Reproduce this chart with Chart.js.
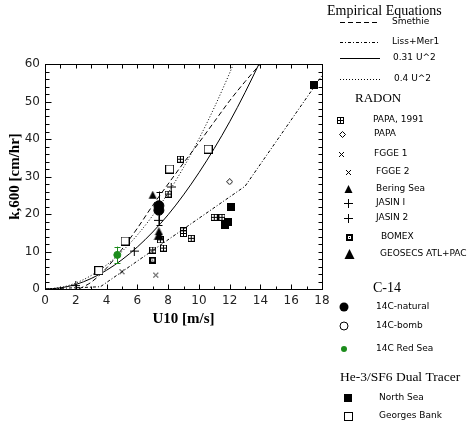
<!DOCTYPE html>
<html>
<head>
<meta charset="utf-8">
<script src="https://cdn.jsdelivr.net/npm/chart.js@4/dist/chart.umd.min.js"></script>
<style>
  html, body { margin: 0; padding: 0; background: #fff; }
  canvas { display: block; }
</style>
</head>
<body>
<canvas id="chart" width="471" height="428"></canvas>
<script>
// --- data ---
const xTicks = [0, 2, 4, 6, 8, 10, 12, 14, 16, 18];
const yTicks = [0, 10, 20, 30, 40, 50, 60];

// empirical curves
const smethieU = [2.2, 3, 4, 5, 6, 7, 8, 9, 10, 11, 12, 13, 14.1];
const smethieK = [0, 1.8, 5.6, 10.6, 16.2, 22.3, 28, 33.6, 39, 44.6, 50.2, 55.3, 60.5];
const lissU = [0, 3.6, 13, 18];
const lissK = [0, 0.6, 27.4, 56.9];
const quad31U = [0, 1, 2, 3, 4, 5, 6, 7, 8, 9, 10, 11, 12, 13, 14, 14.2];
const quad31K = [0, 0.3, 1.2, 2.8, 5, 7.8, 11.2, 15.2, 19.8, 25.1, 31, 37.5, 44.6, 52.4, 60.8, 62.5];
const quad40U = [0, 1, 2, 3, 4, 5, 6, 7, 8, 9, 10, 11, 12, 12.4];
const quad40K = [0, 0.4, 1.6, 3.6, 6.4, 10, 14.4, 19.6, 25.6, 32.4, 40, 48.4, 57.6, 61.5];

// radon
const papa91U = [7.0, 7.5, 7.7, 8.0, 8.8, 9.0, 9.0, 9.5, 11.0, 11.5];
const papa91K = [10.4, 13.1, 10.9, 25.3, 34.6, 15.5, 14.8, 13.5, 19.1, 19.1];
const papaU = [12.0];
const papaK = [28.6];
const fgge1U = [7.2];
const fgge1K = [3.7];
const fgge2U = [5.0];
const fgge2K = [4.6];
const beringU = [7.0, 7.4];
const beringK = [25.0, 15.3];
const jasin1U = [5.8, 8.2];
const jasin1K = [10.1, 27.2];
const jasin2U = [2.0, 7.4];
const jasin2K = [0.9, 18.3];
const bomexU = [7.0];
const bomexK = [7.7];
const geosecsU = [7.4];
const geosecsK = [14.3];

// C-14
const c14natU = [7.4, 7.4];
const c14natK = [22.2, 21.0];
const c14bombU = [];
const c14bombK = [];
const redSeaU = [4.7];
const redSeaK = [9.1];

// error bars
const errU = [7.4, 4.7];
const errLo = [17.2, 6.9];
const errHi = [26.0, 11.3];
const errColor = ['#000', '#1c8c1c'];

// dual tracer
const northSeaU = [11.7, 11.9, 12.1, 17.5];
const northSeaK = [17.0, 17.8, 21.8, 54.4];
const georgesU = [3.5, 5.2, 8.1, 10.6];
const georgesK = [4.9, 12.8, 32.0, 37.3];

const GREEN = '#1c8c1c';

function pts(us, ks) {
  return us.map((u, i) => ({ x: u, y: ks[i] }));
}

function makeStyle(size, draw) {
  const c = document.createElement('canvas');
  c.width = size;
  c.height = size;
  draw(c.getContext('2d'), size);
  return c;
}

const boxPlus = makeStyle(7, (g) => {
  g.strokeStyle = '#000'; g.lineWidth = 1;
  g.strokeRect(0.5, 0.5, 6, 6);
  g.beginPath(); g.moveTo(3.5, 0.5); g.lineTo(3.5, 6.5); g.moveTo(0.5, 3.5); g.lineTo(6.5, 3.5); g.stroke();
});
const diamond = makeStyle(7, (g) => {
  g.strokeStyle = '#000'; g.lineWidth = 1;
  g.beginPath(); g.moveTo(3.5, 0.5); g.lineTo(6.5, 3.5); g.lineTo(3.5, 6.5); g.lineTo(0.5, 3.5); g.closePath(); g.stroke();
});
const xMark = makeStyle(7, (g) => {
  g.strokeStyle = '#000'; g.lineWidth = 1;
  g.beginPath(); g.moveTo(1, 1); g.lineTo(6, 6); g.moveTo(6, 1); g.lineTo(1, 6); g.stroke();
});
const triSmall = makeStyle(9, (g) => {
  g.fillStyle = '#000';
  g.beginPath(); g.moveTo(4.5, 0); g.lineTo(8.5, 8); g.lineTo(0.5, 8); g.closePath(); g.fill();
});
const triBig = makeStyle(11, (g) => {
  g.fillStyle = '#000';
  g.beginPath(); g.moveTo(5.5, 0); g.lineTo(10.5, 10); g.lineTo(0.5, 10); g.closePath(); g.fill();
});
const plusMark = makeStyle(9, (g) => {
  g.strokeStyle = '#000'; g.lineWidth = 1;
  g.beginPath(); g.moveTo(4.5, 0); g.lineTo(4.5, 9); g.moveTo(0, 4.5); g.lineTo(9, 4.5); g.stroke();
});
const boxDot = makeStyle(7, (g) => {
  g.fillStyle = '#000'; g.fillRect(0, 0, 7, 7);
  g.fillStyle = '#fff'; g.fillRect(2, 2, 3, 3);
  g.fillStyle = '#000'; g.fillRect(3, 3, 1, 1);
});
const squareFilled = makeStyle(8, (g) => {
  g.fillStyle = '#000'; g.fillRect(0, 0, 8, 8);
});
const squareOpen = makeStyle(9, (g) => {
  g.fillStyle = '#000'; g.fillRect(0, 0, 9, 9);
  g.fillStyle = '#fff'; g.fillRect(1, 1, 7, 7);
});

function lineSet(us, ks, dash, smooth) {
  return {
    data: pts(us, ks), showLine: true, pointRadius: 0, borderColor: '#000', borderWidth: 1,
    borderDash: dash, cubicInterpolationMode: smooth ? 'monotone' : 'default', order: 2
  };
}
function markSet(us, ks, style, radius, color) {
  return {
    data: pts(us, ks), showLine: false, pointStyle: style, pointRadius: radius,
    pointBackgroundColor: color || '#000', pointBorderColor: color || '#000', pointBorderWidth: 1, order: 1
  };
}

const datasets = [
  lineSet(smethieU, smethieK, [5, 3], true),
  lineSet(lissU, lissK, [3, 2, 1, 2], false),
  lineSet(quad31U, quad31K, [], true),
  lineSet(quad40U, quad40K, [1, 2], true),
  markSet(papa91U, papa91K, boxPlus, 4),
  markSet(papaU, papaK, diamond, 4),
  markSet(fgge1U, fgge1K, xMark, 4),
  markSet(fgge2U, fgge2K, xMark, 4),
  markSet(bomexU, bomexK, boxDot, 4),
  markSet(jasin1U, jasin1K, plusMark, 4),
  markSet(jasin2U, jasin2K, plusMark, 4),
  markSet(beringU, beringK, triSmall, 4),
  markSet(geosecsU, geosecsK, triBig, 4),
  markSet(c14natU, c14natK, 'circle', 5),
  markSet(c14bombU, c14bombK, 'circle', 4.5, '#fff'),
  markSet(redSeaU, redSeaK, 'circle', 3.5, GREEN),
  markSet(northSeaU, northSeaK, squareFilled, 4),
  markSet(georgesU, georgesK, squareOpen, 4)
];

// error bars, frame, inward ticks and axis titles
const framePlugin = {
  id: 'frame',
  afterDatasetsDraw(chart) {
    const ctx = chart.ctx, xs = chart.scales.x, ys = chart.scales.y;
    ctx.save();
    ctx.lineWidth = 1;
    errU.forEach((u, i) => {
      const x = Math.round(xs.getPixelForValue(u)) + 0.5;
      const y1 = ys.getPixelForValue(errLo[i]);
      const y2 = ys.getPixelForValue(errHi[i]);
      ctx.strokeStyle = errColor[i];
      ctx.beginPath();
      ctx.moveTo(x, y1); ctx.lineTo(x, y2);
      ctx.moveTo(x - 3, Math.round(y1) + 0.5); ctx.lineTo(x + 3, Math.round(y1) + 0.5);
      ctx.moveTo(x - 3, Math.round(y2) + 0.5); ctx.lineTo(x + 3, Math.round(y2) + 0.5);
      ctx.stroke();
    });
    ctx.restore();
  },
  afterDraw(chart) {
    const ctx = chart.ctx, a = chart.chartArea, xs = chart.scales.x, ys = chart.scales.y;
    const L = Math.round(a.left) + 0.5, R = Math.round(a.right) + 0.5;
    const T = Math.round(a.top) + 0.5, B = Math.round(a.bottom) + 0.5;
    ctx.save();
    ctx.strokeStyle = '#000';
    ctx.lineWidth = 1;
    ctx.strokeRect(L, T, R - L, B - T);
    ctx.beginPath();
    for (let v = 0; v <= 18; v++) {
      const x = Math.round(xs.getPixelForValue(v)) + 0.5;
      const len = v % 2 === 0 ? 5 : 3;
      ctx.moveTo(x, B); ctx.lineTo(x, B - len);
      ctx.moveTo(x, T); ctx.lineTo(x, T + 4);
    }
    for (let v = 0; v <= 60; v += 2) {
      const y = Math.round(ys.getPixelForValue(v)) + 0.5;
      const len = v % 10 === 0 ? 6 : 4;
      ctx.moveTo(L, y); ctx.lineTo(L + len, y);
      ctx.moveTo(R, y); ctx.lineTo(R - 4, y);
    }
    ctx.stroke();

    ctx.fillStyle = '#000';
    ctx.font = 'bold 15px "Liberation Serif"';
    ctx.textAlign = 'center';
    ctx.textBaseline = 'middle';
    ctx.fillText('U10 [m/s]', (a.left + a.right) / 2, 319);
    ctx.translate(15, (a.top + a.bottom) / 2);
    ctx.rotate(-Math.PI / 2);
    ctx.fillText('k,600 [cm/hr]', 0, 0);
    ctx.restore();
  }
};

// legend entries on the right
const legendTitles = [
  { text: 'Empirical Equations', x: 327, y: 11, size: 14 },
  { text: 'RADON', x: 355, y: 99, size: 13 },
  { text: 'C-14', x: 373, y: 288, size: 14 },
  { text: 'He-3/SF6 Dual Tracer', x: 340, y: 377, size: 13.5 }
];
const legendLines = [
  { text: 'Smethie', y: 22, dash: [5, 3], tx: 392 },
  { text: 'Liss+Mer1', y: 42, dash: [3, 2, 1, 2], tx: 392 },
  { text: '0.31 U^2', y: 58, dash: [], tx: 393 },
  { text: '0.4 U^2', y: 79, dash: [1, 2], tx: 394 }
];
const legendMarks = [
  { text: 'PAPA, 1991', style: boxPlus, x: 340, y: 120, tx: 373 },
  { text: 'PAPA', style: diamond, x: 342, y: 134, tx: 374 },
  { text: 'FGGE 1', style: xMark, x: 341, y: 154, tx: 374 },
  { text: 'FGGE 2', style: xMark, x: 348, y: 172, tx: 376 },
  { text: 'Bering Sea', style: triSmall, x: 348, y: 189, tx: 376 },
  { text: 'JASIN I', style: plusMark, x: 348, y: 203, tx: 376 },
  { text: 'JASIN 2', style: plusMark, x: 348, y: 218, tx: 376 },
  { text: 'BOMEX', style: boxDot, x: 349, y: 237, tx: 381 },
  { text: 'GEOSECS ATL+PAC', style: triBig, x: 349, y: 254, tx: 380 },
  { text: '14C-natural', circle: '#000', fill: true, r: 4.5, x: 344, y: 307, tx: 376 },
  { text: '14C-bomb', circle: '#000', fill: false, r: 4, x: 344, y: 326, tx: 376 },
  { text: '14C Red Sea', circle: GREEN, fill: true, r: 3, x: 344, y: 349, tx: 376 },
  { text: 'North Sea', style: squareFilled, x: 348, y: 398, tx: 379 },
  { text: 'Georges Bank', style: squareOpen, x: 348, y: 416, tx: 379 }
];

const legendPlugin = {
  id: 'sideLegend',
  afterDraw(chart) {
    const ctx = chart.ctx;
    ctx.save();
    ctx.fillStyle = '#000';
    ctx.textAlign = 'left';
    ctx.textBaseline = 'middle';
    legendTitles.forEach(t => {
      ctx.font = t.size + 'px "Liberation Serif"';
      ctx.fillText(t.text, t.x, t.y);
    });
    ctx.font = '9px "DejaVu Sans"';
    ctx.strokeStyle = '#000';
    ctx.lineWidth = 1;
    legendLines.forEach(l => {
      ctx.setLineDash(l.dash);
      ctx.beginPath();
      ctx.moveTo(340, l.y + 0.5); ctx.lineTo(380, l.y + 0.5);
      ctx.stroke();
      ctx.fillText(l.text, l.tx, l.y);
    });
    ctx.setLineDash([]);
    legendMarks.forEach(m => {
      if (m.style) {
        ctx.drawImage(m.style, Math.round(m.x - m.style.width / 2), Math.round(m.y - m.style.height / 2));
      } else {
        ctx.beginPath();
        ctx.arc(m.x, m.y, m.r, 0, Math.PI * 2);
        if (m.fill) { ctx.fillStyle = m.circle; ctx.fill(); }
        else { ctx.strokeStyle = m.circle; ctx.stroke(); }
        ctx.fillStyle = '#000';
      }
      ctx.fillText(m.text, m.tx, m.y);
    });
    ctx.restore();
  }
};

const tickFont = { family: 'DejaVu Sans', size: 12 };

new Chart(document.getElementById('chart').getContext('2d'), {
  type: 'scatter',
  data: { datasets: datasets },
  options: {
    responsive: false,
    animation: false,
    layout: { padding: { left: 0, right: 149, top: 64, bottom: 0 } },
    plugins: { legend: { display: false }, tooltip: { enabled: false } },
    scales: {
      x: {
        type: 'linear', min: 0, max: 18,
        afterBuildTicks: s => { s.ticks = xTicks.map(v => ({ value: v })); },
        ticks: { color: '#222', font: tickFont, padding: 5, maxRotation: 0, autoSkip: false },
        grid: { display: false, drawTicks: false },
        border: { display: false },
        afterFit: s => { s.height = 139; }
      },
      y: {
        type: 'linear', min: 0, max: 60,
        afterBuildTicks: s => { s.ticks = yTicks.map(v => ({ value: v })); },
        ticks: { color: '#222', font: tickFont, padding: 5, autoSkip: false },
        grid: { display: false, drawTicks: false },
        border: { display: false },
        afterFit: s => { s.width = 45; }
      }
    }
  },
  plugins: [framePlugin, legendPlugin]
});
</script>
</body>
</html>
